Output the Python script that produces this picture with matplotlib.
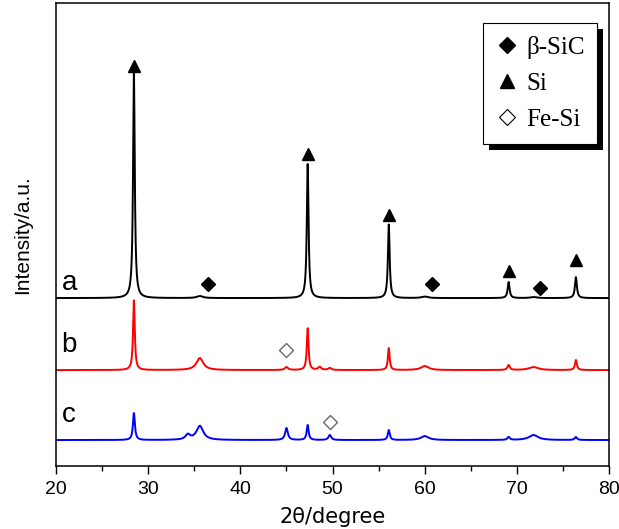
import numpy as np
import matplotlib.pyplot as plt
from matplotlib.patches import Rectangle
from matplotlib.lines import Line2D

# 2-theta grid limits
x_min, x_max = 20, 80

# peak lists per pattern: position (deg), height, FWHM (deg)
a_pos = [28.45, 35.6, 47.3, 56.1, 60.0, 69.1, 71.8, 76.4]
a_hgt = [226, 2, 135, 74, 1.5, 16, 1, 21]
a_wid = [0.22, 0.8, 0.22, 0.22, 0.8, 0.25, 0.8, 0.25]
a_base = 168

b_pos = [28.45, 35.6, 45.0, 47.3, 48.6, 49.7, 56.1, 60.0, 69.1, 71.8, 76.4]
b_hgt = [70, 12, 3, 42, 3, 2, 22, 4, 5, 3, 10]
b_wid = [0.22, 0.9, 0.4, 0.22, 0.4, 0.4, 0.22, 1.0, 0.3, 1.2, 0.25]
b_base = 96

c_pos = [28.45, 34.3, 35.6, 45.0, 47.3, 49.7, 56.1, 60.0, 69.1, 71.8, 76.4]
c_hgt = [27, 5, 14, 12, 15, 5, 10, 4, 3, 5, 3]
c_wid = [0.25, 0.6, 0.9, 0.35, 0.25, 0.35, 0.25, 1.0, 0.3, 1.2, 0.3]
c_base = 26

# phase markers: (x, y)
si_x = [28.45, 47.3, 56.1, 69.1, 76.4]
si_y = [400, 312, 251, 195, 206]
sic_x = [36.5, 60.8, 72.5]
sic_y = [182, 182, 178]
fesi_x = [44.9, 49.7]
fesi_y = [116, 44]

labels = ["a", "b", "c"]
label_y = [183, 121, 51]


def pattern(x, pos, hgt, wid, base):
    y = np.full_like(x, float(base))
    for p, h, w in zip(pos, hgt, wid):
        g = (w / 2) ** 2
        y += h * g / ((x - p) ** 2 + g)
    return y


x = np.linspace(x_min, x_max, 3000)

fig = plt.figure(figsize=(6.19, 5.29), dpi=100)
ax = fig.add_axes([0.0905, 0.119, 0.8935, 0.875])

ax.plot(x, pattern(x, a_pos, a_hgt, a_wid, a_base), color="black", lw=1.4)
ax.plot(x, pattern(x, b_pos, b_hgt, b_wid, b_base), color="red", lw=1.4)
ax.plot(x, pattern(x, c_pos, c_hgt, c_wid, c_base), color="blue", lw=1.4)

ax.plot(si_x, si_y, "^", color="black", ms=9, ls="none")
ax.plot(sic_x, sic_y, "D", color="black", ms=7, ls="none")
ax.plot(fesi_x, fesi_y, "D", mfc="white", mec="dimgray", mew=1.0, ms=7, ls="none")

for lab, ly in zip(labels, label_y):
    ax.text(20.6, ly, lab, fontsize=20, family="Liberation Sans", va="center")

ax.set_xlim(x_min, x_max)
ax.set_ylim(0, 463)
ax.set_yticks([])
ax.set_xticks(range(20, 81, 10))
ax.set_xticks(range(25, 80, 10), minor=True)
ax.tick_params(axis="x", which="major", direction="out", length=6, width=1,
               labelsize=14, pad=5)
ax.tick_params(axis="x", which="minor", direction="out", length=3.5, width=1)
for lbl in ax.get_xticklabels():
    lbl.set_family("Liberation Sans")
for s in ax.spines.values():
    s.set_linewidth(1.1)

ax.set_xlabel("2θ/degree", fontsize=15, family="DejaVu Sans", labelpad=6)
ax.set_ylabel("Intensity/a.u.", fontsize=15, family="Liberation Sans", labelpad=17)

handles = [
    Line2D([], [], marker="D", color="black", ls="none", ms=8),
    Line2D([], [], marker="^", color="black", ls="none", ms=10),
    Line2D([], [], marker="D", mfc="white", mec="black", ls="none", ms=8, mew=0.8),
]
leg = ax.legend(handles, ["β-SiC", "Si", "Fe-Si"], loc="upper right",
                bbox_to_anchor=(0.978, 0.957), borderaxespad=0,
                prop={"family": "Liberation Serif", "size": 18},
                fancybox=False, edgecolor="black", framealpha=1,
                handletextpad=0.3, handlelength=0.9, borderpad=0.5,
                labelspacing=0.55)
leg.get_frame().set_linewidth(0.8)
leg.set_zorder(6)

fig.canvas.draw()
bb = leg.get_window_extent().transformed(fig.transFigure.inverted())
off_x, off_y = 6 / 619, 6 / 529
shadow = Rectangle((bb.x0 + off_x, bb.y0 - off_y), bb.width, bb.height,
                   transform=fig.transFigure, facecolor="black", edgecolor="none",
                   zorder=5.5, clip_on=False)
ax.add_patch(shadow)

fig.savefig("out.png", dpi=100)
